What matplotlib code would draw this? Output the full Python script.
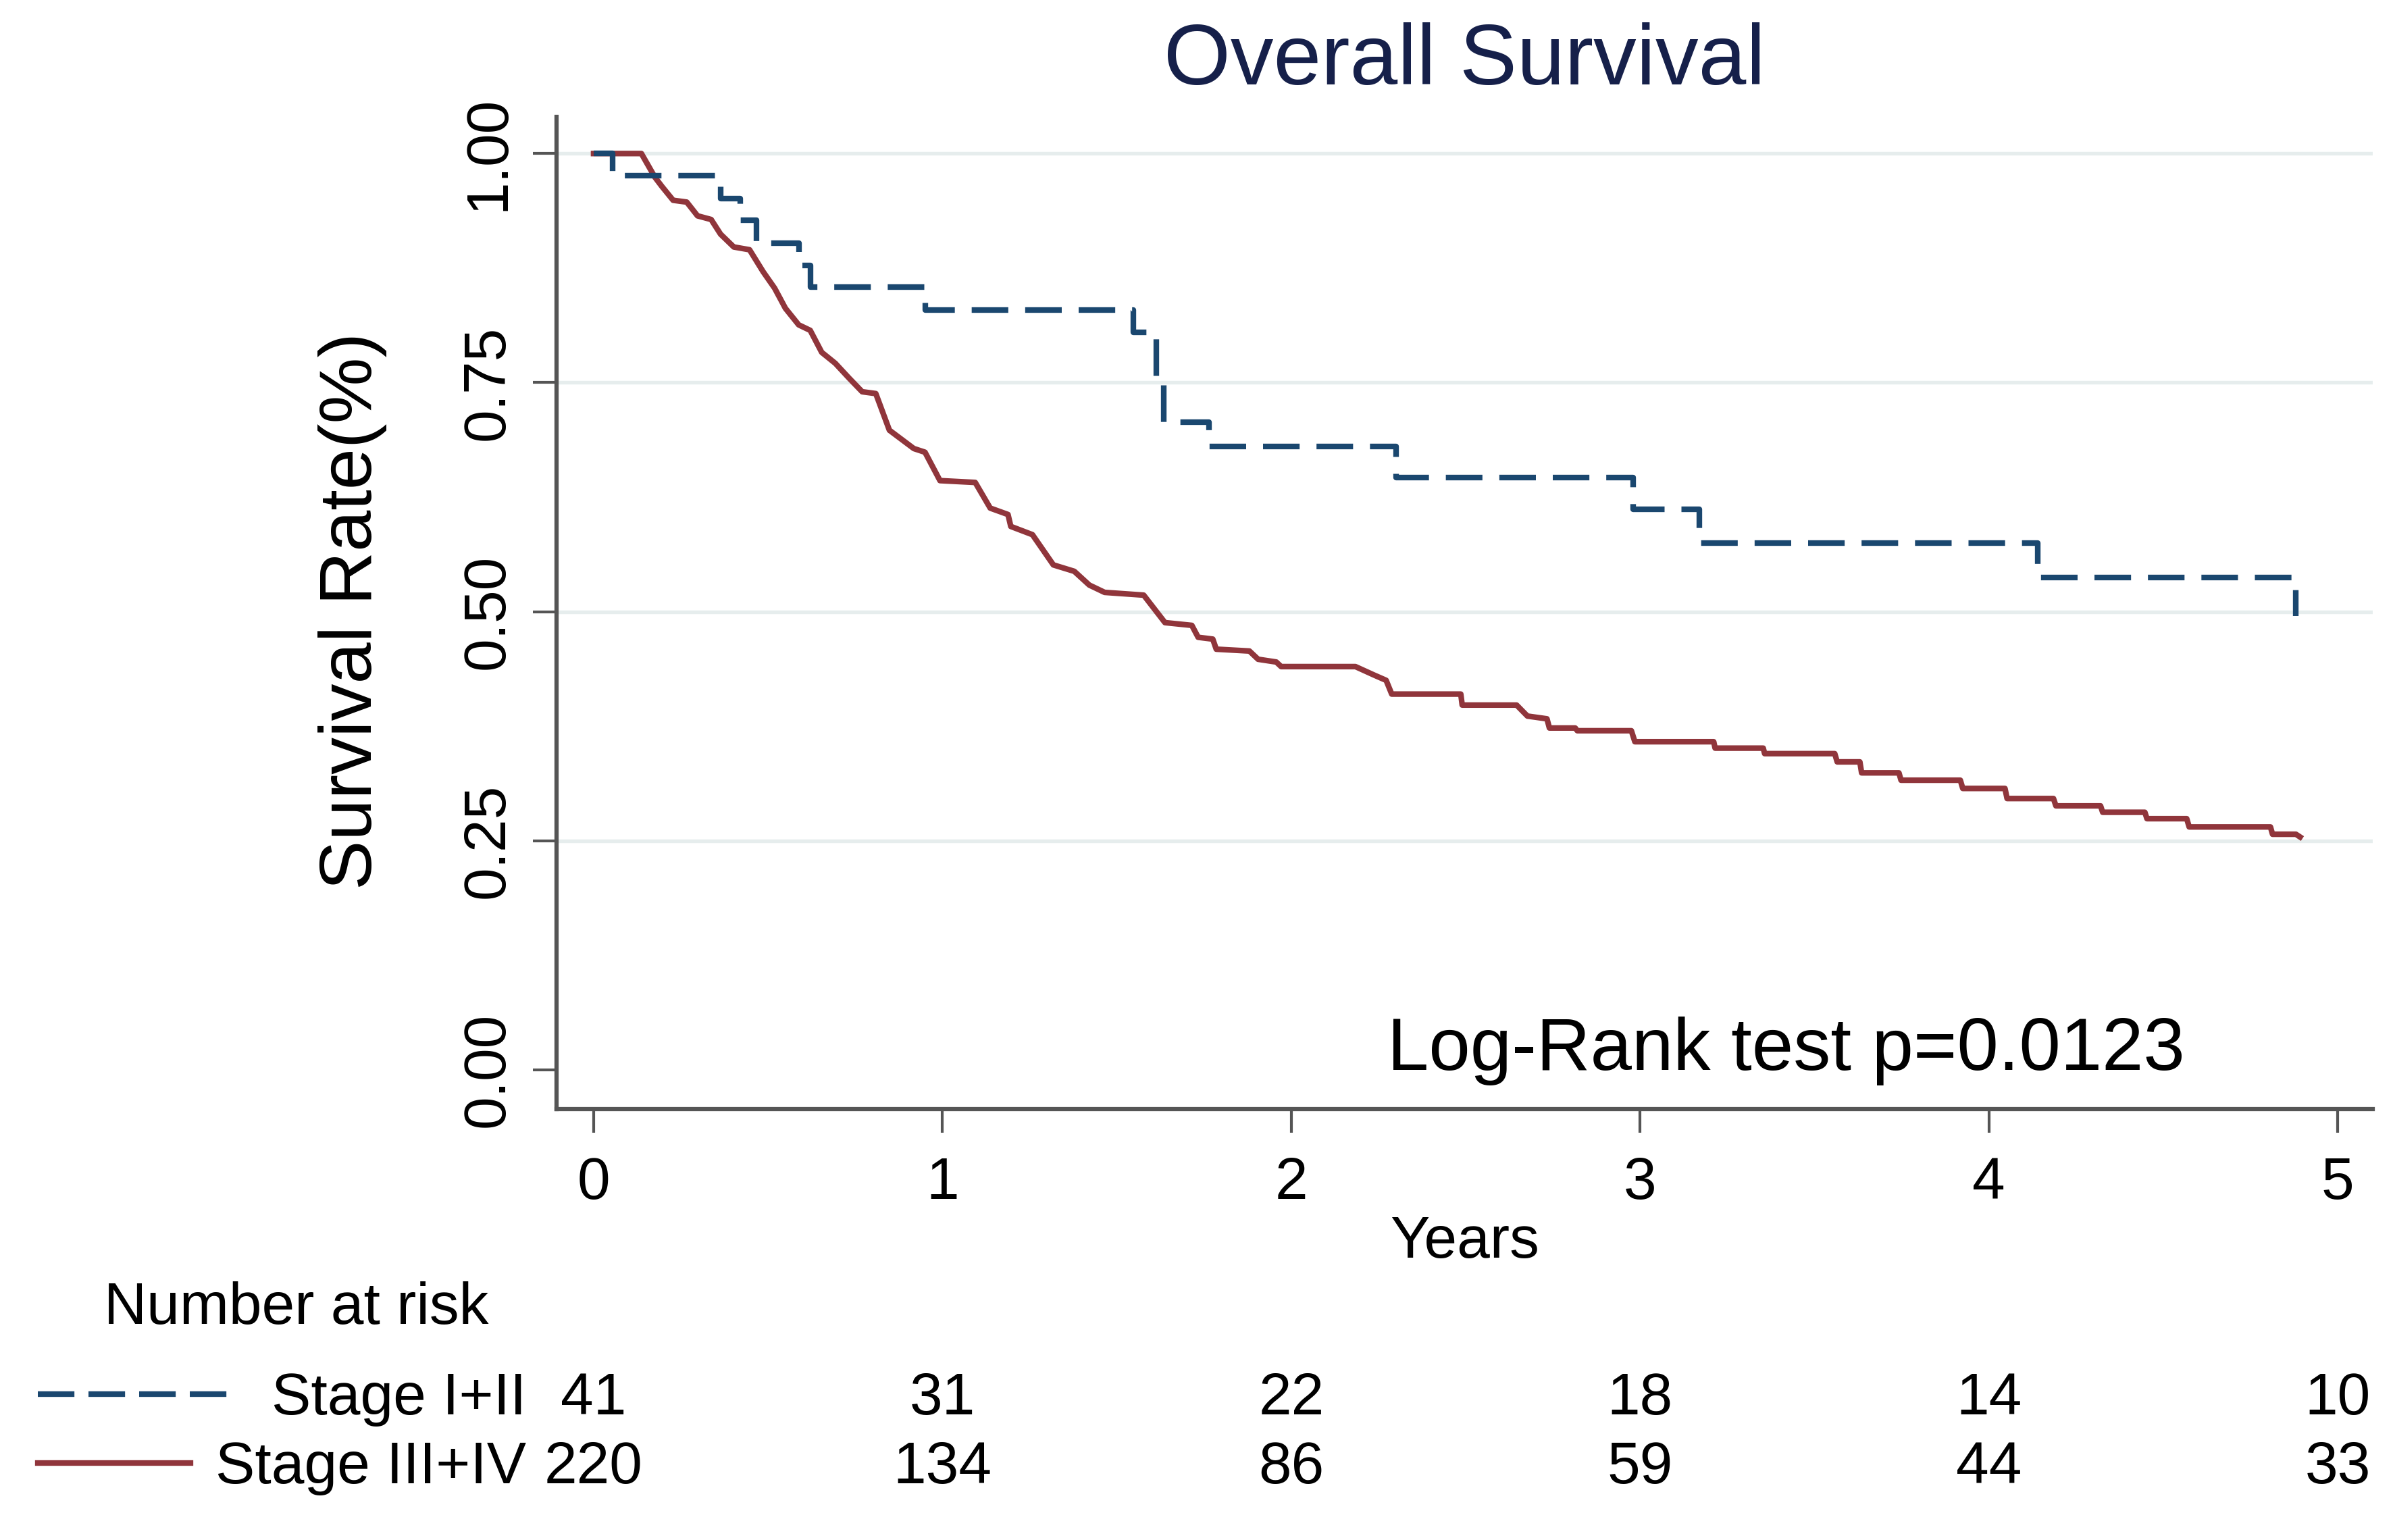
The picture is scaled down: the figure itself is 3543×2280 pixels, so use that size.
import matplotlib as mpl
mpl.use("Agg")
import matplotlib.pyplot as plt
import matplotlib.transforms as mtransforms
from matplotlib.lines import Line2D


# Stage I+II (n=41): drop times and survival after each drop
early_t = [0.0, 0.054, 0.364, 0.42, 0.466, 0.588, 0.621, 0.95, 1.547, 1.614, 1.635, 1.765, 2.30, 2.98, 3.17, 4.14, 4.88]
early_s = [1.0, 0.976, 0.951, 0.927, 0.902, 0.878, 0.854, 0.829, 0.805, 0.756, 0.707, 0.680, 0.646, 0.612, 0.575, 0.537, 0.495]

# Stage III+IV (n=220): traced path of the curve
late_t = [0.000, 0.137, 0.176, 0.196, 0.228, 0.267, 0.298, 0.337, 0.364, 0.402, 0.447, 0.486, 0.519, 0.550,
	0.588, 0.621, 0.654, 0.693, 0.732, 0.770, 0.809, 0.848, 0.918, 0.950, 0.993, 1.094, 1.137, 1.188, 1.196,
	1.258, 1.318, 1.378, 1.421, 1.465, 1.577, 1.638, 1.715, 1.733, 1.775, 1.785, 1.880, 1.905, 1.957, 1.971,
	2.184, 2.236, 2.272, 2.288, 2.486, 2.490, 2.646, 2.677, 2.733, 2.740, 2.814, 2.820, 2.975, 2.985, 3.211,
	3.215, 3.353, 3.357, 3.558, 3.565, 3.630, 3.635, 3.742, 3.748, 3.918, 3.925, 4.046, 4.052, 4.185, 4.192,
	4.320, 4.326, 4.447, 4.453, 4.567, 4.574, 4.807, 4.813, 4.880, 4.892]
late_s = [1.000, 1.000, 0.974, 0.964, 0.949, 0.947, 0.932, 0.928, 0.912, 0.898, 0.895, 0.871, 0.853, 0.831,
	0.813, 0.807, 0.783, 0.771, 0.755, 0.740, 0.738, 0.698, 0.678, 0.674, 0.643, 0.641, 0.613, 0.606, 0.593,
	0.584, 0.551, 0.544, 0.529, 0.521, 0.518, 0.488, 0.485, 0.472, 0.470, 0.459, 0.457, 0.448, 0.445, 0.440,
	0.440, 0.431, 0.425, 0.410, 0.410, 0.398, 0.398, 0.386, 0.383, 0.373, 0.373, 0.370, 0.370, 0.358, 0.358,
	0.351, 0.351, 0.345, 0.345, 0.336, 0.336, 0.324, 0.324, 0.316, 0.316, 0.307, 0.307, 0.296, 0.296, 0.288,
	0.288, 0.281, 0.281, 0.274, 0.274, 0.265, 0.265, 0.257, 0.257, 0.254]

group_names = ["Stage I+II", "Stage III+IV"]
risk_years = [0, 1, 2, 3, 4, 5]
risk_early = [41, 31, 22, 18, 14, 10]
risk_late = [220, 134, 86, 59, 44, 33]

x_ticks = [0, 1, 2, 3, 4, 5]
y_ticks = [0.0, 0.25, 0.5, 0.75, 1.0]
y_labels = ["0.00", "0.25", "0.50", "0.75", "1.00"]

navy = "#1a476f"
maroon = "#90353b"
axis_gray = "#555555"
grid_color = "#e6eded"


def graph_km():

	plt.rcParams["font.family"] = ["Liberation Sans", "DejaVu Sans"]

	fig1 = plt.figure(figsize = (3543 / 300.0, 2280 / 300.0), dpi = 300)
	ax1 = fig1.add_axes([0.2326, 0.2798, 0.7589, 0.6443])

	for yv in y_ticks:
		if (yv > 0):
			ax1.axhline(yv, color = grid_color, linewidth = 1.3, zorder = 0)
		#end_if
	#end_for

	ax1.plot(early_t, early_s, drawstyle = "steps-post", color = navy, linewidth = 2.0,
		dashes = (6.5, 3), dash_capstyle = "butt", zorder = 3)
	ax1.plot(late_t, late_s, color = maroon, linewidth = 2.0, zorder = 2)

	ax1.set_xlim(-0.106, 5.10)
	ax1.set_ylim(-0.043, 1.04)

	ax1.spines["top"].set_visible(False)
	ax1.spines["right"].set_visible(False)
	for side in ["left", "bottom"]:
		ax1.spines[side].set_color(axis_gray)
		ax1.spines[side].set_linewidth(1.5)
	#end_for

	ax1.set_xticks(x_ticks)
	ax1.set_yticks(y_ticks)
	ax1.set_yticklabels(y_labels, rotation = 90, va = "center")
	ax1.tick_params(axis = "both", length = 8.4, width = 1.0, color = axis_gray, labelsize = 21, labelcolor = "black")
	ax1.tick_params(axis = "x", pad = 8.5)
	ax1.tick_params(axis = "y", pad = 6)

	ax1.text(2.275, 0.0, "Log-Rank test p=0.0123", fontsize = 26.5, ha = "left", va = "baseline", color = "black")

	# titles and labels in figure coordinates
	fig1.text(0.612, 0.9452, "Overall Survival", fontsize = 30.5, ha = "center", va = "baseline", color = "#16204a")
	fig1.text(0.1473, 0.6035, "Survival Rate(%)", fontsize = 26.4, rotation = 90, ha = "center", va = "center")
	fig1.text(0.612, 0.1833, "Years", fontsize = 21, ha = "center", va = "baseline")

	# number at risk table
	fig1.text(0.0435, 0.1404, "Number at risk", fontsize = 21, ha = "left", va = "baseline")
	risk_trans = mtransforms.blended_transform_factory(ax1.transData, fig1.transFigure)
	row_y = [0.0816, 0.0368]
	for i in range(len(risk_years)):
		ax1.text(risk_years[i], row_y[0], str(risk_early[i]), transform = risk_trans, fontsize = 21,
			ha = "center", va = "baseline", clip_on = False)
		ax1.text(risk_years[i], row_y[1], str(risk_late[i]), transform = risk_trans, fontsize = 21,
			ha = "center", va = "baseline", clip_on = False)
	#end_for

	fig1.text(0.2199, row_y[0], group_names[0], fontsize = 21, ha = "right", va = "baseline")
	fig1.text(0.2199, row_y[1], group_names[1], fontsize = 21, ha = "right", va = "baseline")

	fig1.add_artist(Line2D([0.0158, 0.0988], [0.0947, 0.0947], transform = fig1.transFigure,
		color = navy, linewidth = 2.0, dashes = (6.5, 2.5), dash_capstyle = "butt"))
	fig1.add_artist(Line2D([0.0158, 0.0796], [0.0500, 0.0500], transform = fig1.transFigure,
		color = maroon, linewidth = 2.0))

	fig1.savefig("out.png", dpi = 300, facecolor = "white")

#end_def


def main():

	graph_km()

#end_def


main()
